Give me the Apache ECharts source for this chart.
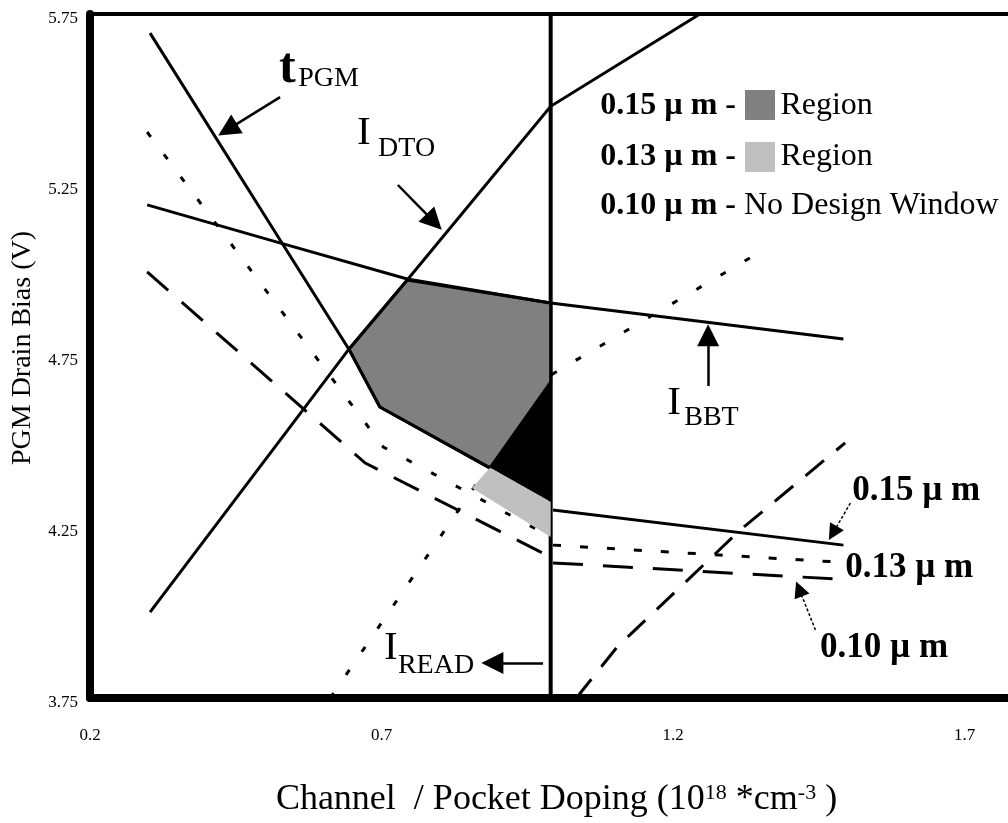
<!DOCTYPE html>
<html>
<head>
<meta charset="utf-8">
<script src="https://cdn.jsdelivr.net/npm/echarts@6/dist/echarts.min.js"></script>
<style>
  html, body { margin: 0; padding: 0; background: #fff; }
  #chart { width: 1008px; height: 823px; }
</style>
</head>
<body>
<div id="chart"></div>
<script>
// Design window for PGM drain bias vs. channel / pocket doping.
// All curves are [doping (1e18 cm^-3), drain bias (V)] pairs.

const xTickValues = [0.2, 0.7, 1.2, 1.7];
const yTickValues = [3.75, 4.25, 4.75, 5.25, 5.75];

// constraint curves
const tPgm  = [[0.303, 5.694], [0.526, 5.089], [0.644, 4.770], [0.697, 4.601], [0.885, 4.423]];
const iDto  = [[0.303, 4.001], [0.644, 4.770], [0.744, 4.972], [0.99, 5.480], [1.246, 5.75]];
const iBbt  = [[0.298, 5.192], [0.521, 5.083], [0.744, 4.975], [0.99, 4.905], [1.492, 4.800]];
const dopingLimit = [[0.99, 3.75], [0.99, 5.75]];
const iReadDotted = [[0.612, 3.75], [0.99, 4.694], [1.332, 5.037]];
const iReadDashed = [[1.034, 3.75], [1.104, 3.899], [1.315, 4.241], [1.495, 4.496]];

// lower bias limits per technology node
const limit015Right = [[0.994, 4.300], [1.492, 4.197]];
const limit013Left  = [[0.298, 5.405], [0.703, 4.484], [0.99, 4.221]];
const limit013Right = [[0.994, 4.197], [1.478, 4.148]];
const limit010Left  = [[0.298, 4.996], [0.672, 4.437], [0.99, 4.162]];
const limit010Right = [[0.994, 4.145], [1.478, 4.098]];

// design windows
const region015 = [[0.744, 4.972], [0.99, 4.905], [0.99, 4.674], [0.886, 4.423], [0.697, 4.601], [0.644, 4.770]];
const regionOverlap = [[0.99, 4.674], [0.886, 4.423], [0.99, 4.323]];
const region013 = [[0.886, 4.423], [0.99, 4.323], [0.99, 4.221], [0.855, 4.364]];

// annotation arrows: [from, head]
const arrowsBold = [
  [[0.526, 5.507], [0.436, 5.412]],
  [[0.728, 5.250], [0.790, 5.142]],
  [[1.260, 4.662], [1.260, 4.811]],
  [[0.977, 3.852], [0.890, 3.852]]
];
const arrowsThin = [
  [[1.504, 4.320], [1.474, 4.232]],
  [[1.444, 3.949], [1.416, 4.069]]
];

const FONT = 'Liberation Serif';

// text notes: anchor (left, middle) in data units
const notes = [
  { at: [0.524, 5.589], text: 't', size: 50, bold: true },
  { at: [0.557, 5.561], text: 'PGM', size: 28 },
  { at: [0.658, 5.402], text: 'I', size: 41 },
  { at: [0.694, 5.357], text: 'DTO', size: 28 },
  { at: [1.190, 4.613], text: 'I', size: 41 },
  { at: [1.219, 4.570], text: 'BBT', size: 28 },
  { at: [0.704, 3.896], text: 'I', size: 41 },
  { at: [0.728, 3.845], text: 'READ', size: 28 },
  { at: [1.075, 5.481], text: '0.15 \u00b5 m -', size: 32, bold: true },
  { at: [1.384, 5.481], text: 'Region', size: 32 },
  { at: [1.075, 5.332], text: '0.13 \u00b5 m -', size: 32, bold: true },
  { at: [1.384, 5.332], text: 'Region', size: 32 },
  { at: [1.075, 5.189], text: '0.10 \u00b5 m - ', size: 32, bold: true, rest: 'No Design Window' },
  { at: [1.507, 4.355], text: '0.15 \u00b5 m', size: 35, bold: true },
  { at: [1.495, 4.130], text: '0.13 \u00b5 m', size: 35, bold: true },
  { at: [1.452, 3.896], text: '0.10 \u00b5 m', size: 35, bold: true }
];
const legendSwatches = [
  { at: [1.349, 5.484], color: '#808080' },
  { at: [1.349, 5.332], color: '#c0c0c0' }
];

function curve(name, data, width, dash, z) {
  return {
    type: 'line', name, data, symbol: 'none', silent: true, z,
    lineStyle: { color: '#000', width, type: dash || 'solid', cap: 'butt', join: 'miter', opacity: 1 }
  };
}

function region(name, pts, fill, stroke, z) {
  return {
    type: 'custom', name, coordinateSystem: 'cartesian2d', silent: true, z, clip: false,
    data: [pts[0]],
    renderItem: (params, api) => ({
      type: 'polygon',
      shape: { points: pts.map(p => api.coord(p)) },
      style: { fill, stroke: stroke || null, lineWidth: stroke ? 3 : 0 }
    })
  };
}

const chart = echarts.init(document.getElementById('chart'));

chart.setOption({
  animation: false,
  backgroundColor: '#fff',
  grid: { left: 90, right: -15, top: 14, bottom: 125, containLabel: false, outerBoundsMode: 'none' },
  xAxis: [{
    type: 'value', min: 0.2, max: 1.8, interval: 0.5,
    axisLine: { show: true, lineStyle: { color: '#000', width: 8 } },
    axisTick: { show: true, inside: true, length: 4, lineStyle: { color: '#000', width: 2 } },
    axisLabel: {
      color: '#000', fontFamily: FONT, fontSize: 17, margin: 29,
      formatter: v => xTickValues.some(t => Math.abs(t - v) < 1e-6) ? String(v) : ''
    },
    splitLine: { show: false },
    name: 'Channel  / Pocket Doping (10{sup|18} *cm{sup|-3} )',
    nameLocation: 'middle', nameGap: 84,
    nameTextStyle: {
      color: '#000', fontFamily: FONT, fontSize: 36,
      rich: { sup: { fontFamily: FONT, fontSize: 22, color: '#000', verticalAlign: 'top' } }
    }
  }, {
    type: 'value', position: 'top', min: 0.2, max: 1.8,
    axisLine: { show: true, onZero: false, lineStyle: { color: '#000', width: 4 } },
    axisTick: { show: false }, axisLabel: { show: false }, splitLine: { show: false }
  }],
  yAxis: {
    type: 'value', min: 3.75, max: 5.75, interval: 0.5,
    axisLine: { show: true, lineStyle: { color: '#000', width: 8 } },
    axisTick: { show: true, inside: true, length: 4, lineStyle: { color: '#000', width: 2 } },
    minorTick: { show: true, splitNumber: 2, length: 4, lineStyle: { color: '#000', width: 2 } },
    axisLabel: {
      color: '#000', fontFamily: FONT, fontSize: 17, margin: 12,
      verticalAlign: 'top', lineHeight: 10,
      formatter: v => yTickValues.some(t => Math.abs(t - v) < 1e-6) ? v.toFixed(2) : ''
    },
    splitLine: { show: false },
    name: 'PGM Drain Bias (V)', nameLocation: 'middle', nameGap: 53, nameRotate: 90,
    nameTextStyle: { color: '#000', fontFamily: FONT, fontSize: 28, padding: [0, 0, 0, 16] }
  },
  series: [
    curve('I_READ dotted', iReadDotted, 3, [6, 22], 2),
    curve('I_READ dashed', iReadDashed, 3, [24, 16], 2),
    curve('0.13 left', limit013Left, 3, [6, 22], 2),
    curve('0.13 right', limit013Right, 3, [8, 19], 2),
    curve('0.10 left', limit010Left, 3, [28, 18], 2),
    curve('0.10 right', limit010Right, 3, [30, 20], 2),
    curve('doping limit', dopingLimit, 4, null, 3),
    region('0.15 region', region015, '#808080', '#000', 4),
    region('overlap', regionOverlap, '#000', null, 4),
    region('0.13 region', region013, '#c0c0c0', null, 4),
    curve('t_PGM', tPgm, 3, null, 5),
    curve('I_DTO', iDto, 3, null, 5),
    curve('I_BBT', iBbt, 3, null, 5),
    curve('0.15 right', limit015Right, 3, null, 5),
    {
      type: 'lines', coordinateSystem: 'cartesian2d', silent: true, z: 6,
      symbol: ['none', 'triangle'], symbolSize: [18, 22],
      lineStyle: { color: '#000', width: 2.5, opacity: 1 },
      itemStyle: { color: '#000', opacity: 1 },
      data: arrowsBold.map(a => ({ coords: a }))
    },
    {
      type: 'lines', coordinateSystem: 'cartesian2d', silent: true, z: 6,
      symbol: ['none', 'triangle'], symbolSize: [12, 16],
      lineStyle: { color: '#000', width: 1.5, type: [3, 2], opacity: 1 },
      itemStyle: { color: '#000', opacity: 1 },
      data: arrowsThin.map(a => ({ coords: a }))
    },
    {
      type: 'scatter', silent: true, z: 7, symbol: 'rect', symbolSize: 30,
      itemStyle: { opacity: 1 },
      data: legendSwatches.map(s => ({ value: s.at, itemStyle: { color: s.color, opacity: 1 } }))
    },
    {
      type: 'scatter', silent: true, z: 8, symbolSize: 0,
      itemStyle: { opacity: 1 },
      data: notes.map(n => ({
        value: n.at,
        label: {
          show: true, position: [0, 0], align: 'left', verticalAlign: 'middle',
          formatter: n.rest ? n.text + '{r|' + n.rest + '}' : n.text,
          fontFamily: FONT, fontSize: n.size, fontWeight: n.bold ? 'bold' : 'normal', color: '#000',
          rich: n.rest ? { r: { fontFamily: FONT, fontSize: n.size, fontWeight: 'normal', color: '#000' } } : undefined
        }
      }))
    }
  ]
});
</script>
</body>
</html>
